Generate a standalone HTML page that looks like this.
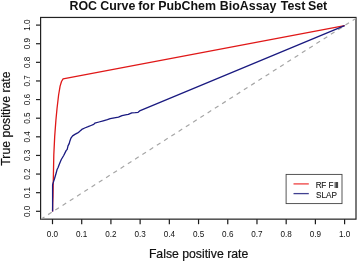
<!DOCTYPE html>
<html><head><meta charset="utf-8"><style>
html,body{margin:0;padding:0;background:#fff;width:358px;height:261px;overflow:hidden}
svg{display:block;will-change:transform}
text{font-family:"Liberation Sans",sans-serif;fill:#111}
.tk{font-size:8.15px}
.lg{font-size:8.2px;stroke:#111;stroke-width:0.08px}
.ti{font-size:12.4px;font-weight:bold}
.ax{font-size:12.25px;stroke:#111;stroke-width:0.2px}
</style></head><body>
<svg width="358" height="261" viewBox="0 0 358 261">
<defs><clipPath id="c"><rect x="40.6" y="17.45" width="315.4" height="201.70000000000002"/></clipPath></defs>
<rect x="40.6" y="17.45" width="315.4" height="201.70000000000002" fill="none" stroke="#222" stroke-width="1.2"/>
<line x1="40.82" y1="219.25" x2="359.21" y2="16.29" stroke="#a6a6a6" stroke-width="1.2" stroke-dasharray="4.3 4.3" clip-path="url(#c)"/>
<line x1="52.50" y1="219.15" x2="52.50" y2="224.2" stroke="#1a1a1a" stroke-width="1.2"/>
<line x1="36" y1="211.30" x2="40.6" y2="211.30" stroke="#222" stroke-width="1.2"/>
<text x="52.50" y="236.8" class="tk" text-anchor="middle">0.0</text>
<text transform="translate(29.9 211.30) rotate(-90)" class="tk" text-anchor="middle">0.0</text>
<line x1="81.71" y1="219.15" x2="81.71" y2="224.2" stroke="#1a1a1a" stroke-width="1.2"/>
<line x1="36" y1="192.68" x2="40.6" y2="192.68" stroke="#222" stroke-width="1.2"/>
<text x="81.71" y="236.8" class="tk" text-anchor="middle">0.1</text>
<text transform="translate(29.9 192.68) rotate(-90)" class="tk" text-anchor="middle">0.1</text>
<line x1="110.92" y1="219.15" x2="110.92" y2="224.2" stroke="#1a1a1a" stroke-width="1.2"/>
<line x1="36" y1="174.06" x2="40.6" y2="174.06" stroke="#222" stroke-width="1.2"/>
<text x="110.92" y="236.8" class="tk" text-anchor="middle">0.2</text>
<text transform="translate(29.9 174.06) rotate(-90)" class="tk" text-anchor="middle">0.2</text>
<line x1="140.13" y1="219.15" x2="140.13" y2="224.2" stroke="#1a1a1a" stroke-width="1.2"/>
<line x1="36" y1="155.44" x2="40.6" y2="155.44" stroke="#222" stroke-width="1.2"/>
<text x="140.13" y="236.8" class="tk" text-anchor="middle">0.3</text>
<text transform="translate(29.9 155.44) rotate(-90)" class="tk" text-anchor="middle">0.3</text>
<line x1="169.34" y1="219.15" x2="169.34" y2="224.2" stroke="#1a1a1a" stroke-width="1.2"/>
<line x1="36" y1="136.82" x2="40.6" y2="136.82" stroke="#222" stroke-width="1.2"/>
<text x="169.34" y="236.8" class="tk" text-anchor="middle">0.4</text>
<text transform="translate(29.9 136.82) rotate(-90)" class="tk" text-anchor="middle">0.4</text>
<line x1="198.55" y1="219.15" x2="198.55" y2="224.2" stroke="#1a1a1a" stroke-width="1.2"/>
<line x1="36" y1="118.20" x2="40.6" y2="118.20" stroke="#222" stroke-width="1.2"/>
<text x="198.55" y="236.8" class="tk" text-anchor="middle">0.5</text>
<text transform="translate(29.9 118.20) rotate(-90)" class="tk" text-anchor="middle">0.5</text>
<line x1="227.76" y1="219.15" x2="227.76" y2="224.2" stroke="#1a1a1a" stroke-width="1.2"/>
<line x1="36" y1="99.58" x2="40.6" y2="99.58" stroke="#222" stroke-width="1.2"/>
<text x="227.76" y="236.8" class="tk" text-anchor="middle">0.6</text>
<text transform="translate(29.9 99.58) rotate(-90)" class="tk" text-anchor="middle">0.6</text>
<line x1="256.97" y1="219.15" x2="256.97" y2="224.2" stroke="#1a1a1a" stroke-width="1.2"/>
<line x1="36" y1="80.96" x2="40.6" y2="80.96" stroke="#222" stroke-width="1.2"/>
<text x="256.97" y="236.8" class="tk" text-anchor="middle">0.7</text>
<text transform="translate(29.9 80.96) rotate(-90)" class="tk" text-anchor="middle">0.7</text>
<line x1="286.18" y1="219.15" x2="286.18" y2="224.2" stroke="#1a1a1a" stroke-width="1.2"/>
<line x1="36" y1="62.34" x2="40.6" y2="62.34" stroke="#222" stroke-width="1.2"/>
<text x="286.18" y="236.8" class="tk" text-anchor="middle">0.8</text>
<text transform="translate(29.9 62.34) rotate(-90)" class="tk" text-anchor="middle">0.8</text>
<line x1="315.39" y1="219.15" x2="315.39" y2="224.2" stroke="#1a1a1a" stroke-width="1.2"/>
<line x1="36" y1="43.72" x2="40.6" y2="43.72" stroke="#222" stroke-width="1.2"/>
<text x="315.39" y="236.8" class="tk" text-anchor="middle">0.9</text>
<text transform="translate(29.9 43.72) rotate(-90)" class="tk" text-anchor="middle">0.9</text>
<line x1="344.60" y1="219.15" x2="344.60" y2="224.2" stroke="#1a1a1a" stroke-width="1.2"/>
<line x1="36" y1="25.10" x2="40.6" y2="25.10" stroke="#222" stroke-width="1.2"/>
<text x="344.60" y="236.8" class="tk" text-anchor="middle">1.0</text>
<text transform="translate(29.9 25.10) rotate(-90)" class="tk" text-anchor="middle">1.0</text>
<polyline points="52.55,211.50 52.70,203.00 53.00,196.00 53.80,155.00 54.70,136.40 55.90,120.30 57.00,108.80 58.60,95.00 60.10,86.10 61.50,81.50 63.10,78.80 344.60,25.60" fill="none" stroke="#e01818" stroke-width="1.3" stroke-linejoin="round"/>
<polyline points="52.60,211.60 52.60,185.00 52.90,183.60 54.50,178.80 56.10,173.20 57.20,169.20 58.10,167.50 59.30,164.30 61.30,159.50 63.70,155.50 66.10,150.60 67.20,149.30 68.00,145.90 69.20,143.60 70.00,140.70 71.10,137.80 72.60,135.90 74.90,134.40 77.20,133.20 78.90,132.10 80.10,130.90 81.80,129.40 84.70,128.00 88.10,126.70 91.00,125.50 93.70,124.40 94.80,123.20 99.00,122.00 103.20,120.80 107.40,119.70 110.20,118.70 114.30,117.80 118.50,117.20 122.00,115.60 125.50,114.80 128.30,114.40 131.80,112.80 135.30,112.70 138.10,112.30 140.20,110.60 344.60,25.60" fill="none" stroke="#1a1a80" stroke-width="1.3" stroke-linejoin="round"/>
<rect x="286.1" y="174.4" width="55.9" height="29.2" fill="#fff" stroke="#444" stroke-width="0.9"/>
<line x1="293.5" y1="183.9" x2="308.8" y2="183.9" stroke="#ee4040" stroke-width="1.3"/>
<line x1="293.5" y1="193.6" x2="308.8" y2="193.6" stroke="#404090" stroke-width="1.3"/>
<text y="187.7" class="lg"><tspan x="315.8">R</tspan><tspan x="321.3">F</tspan><tspan x="328.6">F</tspan><tspan x="333.9" letter-spacing="-0.95">III</tspan></text>
<text x="316.1" y="197.7" class="lg">SLAP</text>
<text y="9.6" class="ti"><tspan x="69.47">ROC</tspan><tspan x="100.23">Curve</tspan><tspan x="138.2">for</tspan><tspan x="158.15">PubChem</tspan><tspan x="219.83">BioAssay</tspan><tspan x="280.74">Test</tspan><tspan x="307.94">Set</tspan></text>
<text x="198.6" y="257.5" class="ax" text-anchor="middle">False positive rate</text>
<text transform="translate(9.8 118.6) rotate(-90)" class="ax" text-anchor="middle">True positive rate</text>
</svg>
</body></html>
